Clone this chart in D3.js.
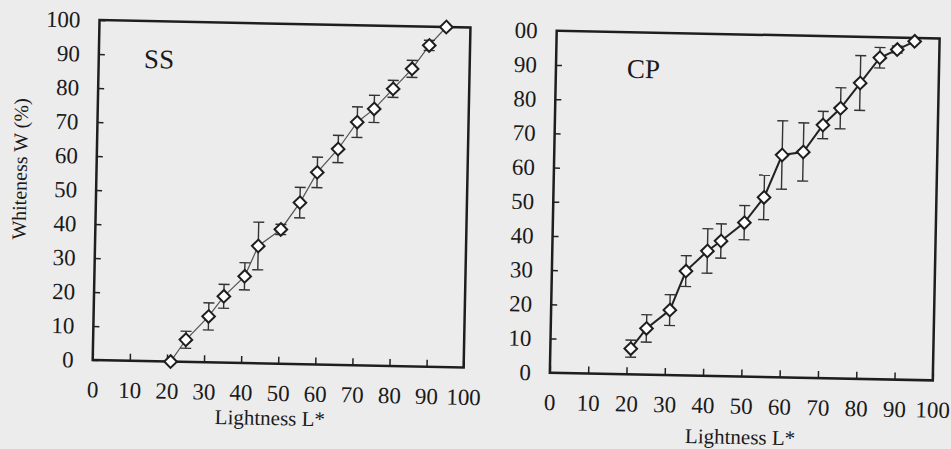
<!DOCTYPE html>
<html>
<head>
<meta charset="utf-8">
<script src="https://cdn.jsdelivr.net/npm/d3@7"></script>
<style>
  html, body { margin: 0; padding: 0; background: #ececec; }
  svg { display: block; }
  svg text { font-family: "Liberation Serif", "Times New Roman", "DejaVu Serif", serif !important; fill: #1a1a1a; }
</style>
</head>
<body>
<svg id="chart" width="951" height="449" font-family="Liberation Serif"></svg>
<script>
// ---- data ----
const lightness = [21, 25, 31, 35, 40.5, 44, 50, 55, 59.5, 65, 70, 74.5, 79.5, 84.5, 89, 93.5];
const ssWhiteness = [0, 6.5, 13.5, 19.5, 25.5, 34.5, 39.5, 47.5, 56.5, 63.5, 71.5, 75.5, 81.5, 87.5, 94.5, 100];
const ssError = [0, 2.5, 4, 3.5, 4, 7, 1.5, 4.5, 4.5, 4, 4.5, 4, 2.5, 2.5, 1.5, 0];
const cpWhiteness = [7.5, 13.5, 19, 30.5, 36.5, 39.5, 45, 52.5, 65, 66, 74, 79, 86.5, 94, 96.5, 99];
const cpError = [2.5, 4, 4.5, 4.5, 6.5, 5, 5, 6.5, 10, 8.5, 4, 6, 8, 3, 1, 0];
const xTicks = [0, 10, 20, 30, 40, 50, 60, 70, 80, 90, 100];
const xTickLabels = ["0", "10", "20", "30", "40", "50", "60", "70", "80", "90", "100"];
const yTicks = [0, 10, 20, 30, 40, 50, 60, 70, 80, 90, 100];
const ssYTickLabels = ["0", "10", "20", "30", "40", "50", "60", "70", "80", "90", "100"];
const cpYTickLabels = ["0", "10", "20", "30", "40", "50", "60", "70", "80", "90", "00"];
const panelNames = ["SS", "CP"];
const xTitle = "Lightness L*";
const yTitle = "Whiteness W (%)";

const SERIF = "'Liberation Serif', 'Times New Roman', serif";

// ---- layout ----
const svg = d3.select("#chart");
const root = svg.append("g").attr("transform", "rotate(1.15, 92.7, 360)");

const panels = [
  { name: panelNames[0], W: ssWhiteness, E: ssError, yLabels: ssYTickLabels,
    x0: 92.7, x1: 463.7, yb: 360, yt: 20, lineW: 1.2, lineC: "#555",
    label: [138, 67], title: [271, 421.5] },
  { name: panelNames[1], W: cpWhiteness, E: cpError, yLabels: cpYTickLabels,
    x0: 550, x1: 933, yb: 363.5, yt: 21.5, lineW: 2, lineC: "#222",
    label: [621, 67], title: [741.5, 431] }
];

panels.forEach(p => {
  const x = d3.scaleLinear().domain([0, 100]).range([p.x0, p.x1]);
  const y = d3.scaleLinear().domain([0, 100]).range([p.yb, p.yt]);
  const g = root.append("g");

  // axes with inward ticks
  const xAxis = d3.axisBottom(x).tickValues(xTicks)
    .tickFormat((d, i) => xTickLabels[i]).tickSizeInner(-7).tickSizeOuter(0).tickPadding(21);
  const xa = g.append("g").attr("transform", `translate(0,${p.yb})`).call(xAxis);
  const yAxis = d3.axisLeft(y).tickValues(yTicks)
    .tickFormat((d, i) => p.yLabels[i]).tickSizeInner(-6).tickSizeOuter(0).tickPadding(19);
  const ya = g.append("g").attr("transform", `translate(${p.x0},0)`).call(yAxis);
  [xa, ya].forEach(a => {
    a.attr("font-family", SERIF).attr("font-size", 23);
    a.select(".domain").remove();
    a.selectAll(".tick line").attr("stroke", "#222").attr("stroke-width", 1.5);
    a.selectAll(".tick text").attr("font-family", SERIF)
      .style("font-size", "23px").attr("fill", "#1a1a1a");
  });

  // frame
  g.append("rect")
    .attr("x", p.x0).attr("y", p.yt)
    .attr("width", p.x1 - p.x0).attr("height", p.yb - p.yt)
    .attr("fill", "none").attr("stroke", "#1e1e1e").attr("stroke-width", 2.5);

  const pts = lightness.map((l, i) => ({ l, w: p.W[i], e: p.E[i] }));

  // line
  g.append("path").datum(pts)
    .attr("d", d3.line().x(d => x(d.l)).y(d => y(d.w)))
    .attr("fill", "none").attr("stroke", p.lineC).attr("stroke-width", p.lineW);

  // error bars
  const eb = g.append("g").attr("stroke", "#333").attr("stroke-width", 1.4);
  pts.filter(d => d.e > 0).forEach(d => {
    const cx = x(d.l);
    eb.append("line").attr("x1", cx).attr("x2", cx)
      .attr("y1", y(d.w - d.e)).attr("y2", y(d.w + d.e));
    [d.w - d.e, d.w + d.e].forEach(v => {
      eb.append("line").attr("x1", cx - 5.5).attr("x2", cx + 5.5)
        .attr("y1", y(v)).attr("y2", y(v));
    });
  });

  // diamond markers
  g.append("g").selectAll("path").data(pts).join("path")
    .attr("d", d3.symbol().type(d3.symbolSquare).size(80))
    .attr("transform", d => `translate(${x(d.l)},${y(d.w)}) rotate(45)`)
    .attr("fill", "#fff").attr("stroke", "#1e1e1e").attr("stroke-width", 2);

  // panel label
  g.append("text").attr("x", p.label[0]).attr("y", p.label[1])
    .attr("font-family", SERIF).style("font-size", "27px").text(p.name);

  // x title
  g.append("text").attr("x", p.title[0]).attr("y", p.title[1])
    .attr("font-family", SERIF)
    .attr("text-anchor", "middle").style("font-size", "21px").text(xTitle);
});

// y title (left panel only)
root.append("text")
  .attr("transform", "translate(16,170.5) rotate(-90)")
  .attr("font-family", SERIF)
  .attr("text-anchor", "middle").attr("dy", "0.35em")
  .style("font-size", "20px").text(yTitle);
</script>
</body>
</html>
